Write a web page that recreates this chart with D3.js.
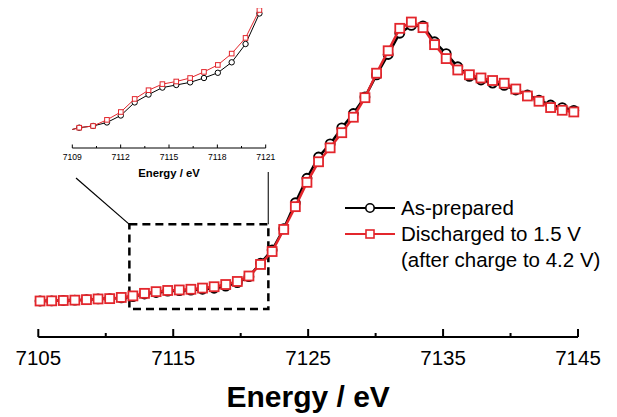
<!DOCTYPE html>
<html><head><meta charset="utf-8">
<script src="https://cdn.jsdelivr.net/npm/d3@7"></script>
<style>body{margin:0;background:#fff}svg{display:block;font-family:"Liberation Sans",Arial,sans-serif}</style>
</head><body>
<script>
const energy = [7105.13, 7105.99, 7106.85, 7107.71, 7108.57, 7109.43, 7110.29, 7111.15, 7112.01, 7112.87, 7113.73, 7114.59, 7115.45, 7116.31, 7117.17, 7118.03, 7118.89, 7119.75, 7120.61, 7121.47, 7122.33, 7123.19, 7124.05, 7124.91, 7125.77, 7126.63, 7127.49, 7128.35, 7129.21, 7130.07, 7130.93, 7131.79, 7132.65, 7133.51, 7134.37, 7135.23, 7136.09, 7136.95, 7137.81, 7138.67, 7139.53, 7140.39, 7141.25, 7142.11, 7142.97, 7143.83, 7144.69];
const asPrepared = [0.000, 0.001, 0.003, 0.005, 0.008, 0.012, 0.014, 0.018, 0.026, 0.041, 0.050, 0.058, 0.061, 0.064, 0.069, 0.075, 0.087, 0.108, 0.143, 0.222, 0.300, 0.425, 0.578, 0.722, 0.847, 0.924, 1.018, 1.103, 1.200, 1.330, 1.450, 1.575, 1.621, 1.618, 1.525, 1.455, 1.378, 1.321, 1.300, 1.282, 1.268, 1.241, 1.212, 1.181, 1.153, 1.138, 1.121];
const discharged = [0.000, 0.001, 0.003, 0.005, 0.008, 0.012, 0.014, 0.021, 0.030, 0.045, 0.055, 0.062, 0.065, 0.069, 0.076, 0.084, 0.097, 0.115, 0.147, 0.215, 0.291, 0.421, 0.555, 0.698, 0.819, 0.901, 0.990, 1.081, 1.196, 1.340, 1.472, 1.604, 1.641, 1.608, 1.508, 1.426, 1.359, 1.331, 1.312, 1.297, 1.281, 1.247, 1.206, 1.175, 1.138, 1.122, 1.112];
const mainTicks = [7105, 7115, 7125, 7135, 7145];
const mainMinor = [7110, 7120, 7130, 7140];
const insetTicks = [7109, 7112, 7115, 7118, 7121];
const insetMinor = [7110.5, 7113.5, 7116.5, 7119.5];
const seriesNames = ["As-prepared", "Discharged to 1.5 V", "(after charge to 4.2 V)"];
const xTitle = "Energy / eV";

const RED = "#e3262c";
const W = 617, H = 417;
const svg = d3.select("body").append("svg").attr("width", W).attr("height", H);

// main scales
const x = d3.scaleLinear().domain([7105, 7145]).range([38.3, 578]);
const y = d3.scaleLinear().domain([0, 1]).range([301, 131]);
const axisY = 337;

const A = energy.map((e, i) => ({e, v: asPrepared[i]}));
const D = energy.map((e, i) => ({e, v: discharged[i]}));

// main axis
const gx = svg.append("g").attr("transform", `translate(0,${axisY})`);
gx.append("line").attr("x1", x(7105)).attr("x2", x(7145)).attr("stroke", "#000").attr("stroke-width", 2);
gx.selectAll(".mj").data(mainTicks).enter().append("line")
  .attr("x1", d => x(d)).attr("x2", d => x(d)).attr("y1", 0).attr("y2", -8)
  .attr("stroke", "#000").attr("stroke-width", 2);
gx.selectAll(".mn").data(mainMinor).enter().append("line")
  .attr("x1", d => x(d)).attr("x2", d => x(d)).attr("y1", 0).attr("y2", -4)
  .attr("stroke", "#000").attr("stroke-width", 2);
gx.selectAll(".tl").data(mainTicks).enter().append("text")
  .attr("x", d => x(d)).attr("y", 28).attr("text-anchor", "middle")
  .attr("font-size", 20.5).text(d => d);
svg.append("text").attr("x", (x(7105) + x(7145)) / 2).attr("y", 407)
  .attr("text-anchor", "middle").attr("font-size", 30).attr("font-weight", "bold").text(xTitle);

// dashed box and connectors
const bx0 = x(7111.75), bx1 = x(7122.05), by0 = y(0.451), by1 = y(-0.047);
svg.append("rect").attr("x", bx0).attr("y", by0).attr("width", bx1 - bx0).attr("height", by1 - by0)
  .attr("fill", "none").attr("stroke", "#000").attr("stroke-width", 2.5).attr("stroke-dasharray", "8,5");

// main lines
const line = d3.line().x(d => x(d.e)).y(d => y(d.v));
svg.append("path").datum(A).attr("d", line).attr("fill", "none").attr("stroke", "#000").attr("stroke-width", 2.5);
svg.selectAll(".c").data(A).enter().append("circle")
  .attr("cx", d => x(d.e)).attr("cy", d => y(d.v)).attr("r", 4.5)
  .attr("fill", "#fff").attr("stroke", "#000").attr("stroke-width", 1.8);
svg.append("path").datum(D).attr("d", line).attr("fill", "none").attr("stroke", RED).attr("stroke-width", 2.5);
svg.selectAll(".s").data(D).enter().append("rect")
  .attr("x", d => x(d.e) - 4.5).attr("y", d => y(d.v) - 4.5).attr("width", 9).attr("height", 9)
  .attr("fill", "#fff").attr("stroke", RED).attr("stroke-width", 1.8);

// inset
const xi = d3.scaleLinear().domain([7109, 7121]).range([72.3, 265.7]);
const yi = d3.scaleLinear().domain([0.012, 0.147]).range([127.7, 10]);
const iAxisY = 148;
svg.append("line").attr("x1", 76).attr("y1", 178).attr("x2", bx0).attr("y2", by0).attr("stroke", "#000").attr("stroke-width", 1.2);
svg.append("line").attr("x1", xi(7121) + 2.6).attr("y1", 172).attr("x2", xi(7121) + 2.6).attr("y2", by0).attr("stroke", "#333").attr("stroke-width", 1.3);

svg.append("clipPath").attr("id", "ic").append("rect")
  .attr("x", xi(7109)).attr("y", 8).attr("width", xi(7121) - xi(7109)).attr("height", 142);
const gi = svg.append("g").attr("clip-path", "url(#ic)");
const iline = d3.line().x(d => xi(d.e)).y(d => yi(d.v));
gi.append("path").datum(A).attr("d", iline).attr("fill", "none").attr("stroke", "#000").attr("stroke-width", 1);
gi.selectAll(".ic").data(A.filter(d => d.e > 7109 && d.e < 7121)).enter().append("circle")
  .attr("cx", d => xi(d.e)).attr("cy", d => yi(d.v)).attr("r", 2.7)
  .attr("fill", "#fff").attr("stroke", "#000").attr("stroke-width", 1);
gi.append("path").datum(D).attr("d", iline).attr("fill", "none").attr("stroke", RED).attr("stroke-width", 1);
gi.selectAll(".is").data(D.filter(d => d.e > 7109 && d.e < 7121)).enter().append("rect")
  .attr("x", d => xi(d.e) - 2.3).attr("y", d => yi(d.v) - 2.3).attr("width", 4.6).attr("height", 4.6)
  .attr("fill", "#fff").attr("stroke", RED).attr("stroke-width", 1);

const gix = svg.append("g").attr("transform", `translate(0,${iAxisY})`);
gix.append("line").attr("x1", xi(7109)).attr("x2", xi(7121)).attr("stroke", "#000").attr("stroke-width", 1);
gix.selectAll(".imj").data(insetTicks).enter().append("line")
  .attr("x1", d => xi(d)).attr("x2", d => xi(d)).attr("y1", 0).attr("y2", -3.5).attr("stroke", "#000").attr("stroke-width", 1);
gix.selectAll(".imn").data(insetMinor).enter().append("line")
  .attr("x1", d => xi(d)).attr("x2", d => xi(d)).attr("y1", 0).attr("y2", -2).attr("stroke", "#000").attr("stroke-width", 1);
gix.selectAll(".itl").data(insetTicks).enter().append("text")
  .attr("x", d => xi(d)).attr("y", 11.5).attr("text-anchor", "middle").attr("font-size", 8.6).text(d => d);
svg.append("text").attr("x", (xi(7109) + xi(7121)) / 2).attr("y", 176.5).attr("text-anchor", "middle")
  .attr("font-size", 11.3).attr("font-weight", "bold").text(xTitle);

// legend
const lg = svg.append("g");
lg.append("line").attr("x1", 345).attr("x2", 395).attr("y1", 208).attr("y2", 208).attr("stroke", "#000").attr("stroke-width", 2);
lg.append("circle").attr("cx", 370).attr("cy", 208).attr("r", 4.2).attr("fill", "#fff").attr("stroke", "#000").attr("stroke-width", 1.6);
lg.append("line").attr("x1", 345).attr("x2", 395).attr("y1", 234).attr("y2", 234).attr("stroke", RED).attr("stroke-width", 2);
lg.append("rect").attr("x", 366).attr("y", 230).attr("width", 8).attr("height", 8).attr("fill", "#fff").attr("stroke", RED).attr("stroke-width", 1.6);
lg.selectAll("text").data(seriesNames).enter().append("text")
  .attr("x", 401).attr("y", (d, i) => 215 + i * 26.2).attr("font-size", 20.5).text(d => d);
</script>
</body></html>
